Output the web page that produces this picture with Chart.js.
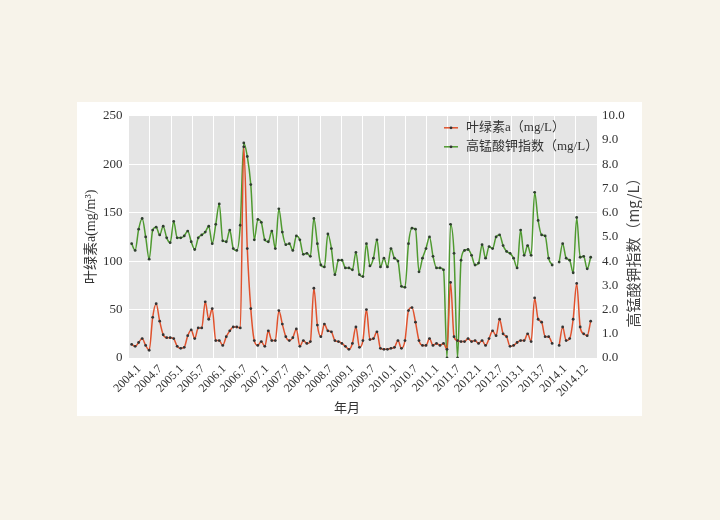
<!DOCTYPE html>
<html>
<head>
<meta charset="utf-8">
<script src="https://cdn.jsdelivr.net/npm/chart.js@4.4.1/dist/chart.umd.min.js"></script>
<style>
  body { margin: 0; width: 720px; height: 520px; background: #f7f3ea; position: relative; overflow: hidden; }
  #box { position: absolute; left: 77px; top: 102px; width: 565px; height: 314px; background: #fff; }
</style>
</head>
<body>
<div id="box"><canvas id="chart" width="565" height="314"></canvas></div>
<script>
// tick labels on the x axis (one every half year, as printed)
const xLabels = ['2004.1','2004.7','2005.1','2005.7','2006.1','2006.7','2007.1','2007.7',
  '2008.1','2008.7','2009.1','2009.7','2010.1','2010.7','2011.1','2011.7','2012.1','2012.7',
  '2013.1','2013.7','2014.1','2014.12'];

// monthly values 2004.1 - 2014.12 (null = no sample)
const chlA = [14,12,16,20,13,8,42,56,38,24,
  21,21,20,12,10,11,23,29,20,31,
  31,58,40,51,18,18,13,22,28,32,
  32,31,218,113,51,18,13,17,12,28,
  18,18,49,35,22,18,21,30,12,18,
  15,17,72,34,22,35,28,27,18,17,
  15,12,9,15,32,11,18,50,19,20,
  27,10,9,9,10,11,18,10,18,49,
  52,37,18,13,13,20,13,15,13,15,
  9,78,22,18,17,17,20,17,18,15,
  18,13,20,28,23,40,25,22,12,13,
  16,18,18,25,17,62,40,37,22,22,
  15,null,13,32,18,20,40,77,32,25,
  23,38];

const codMn = [4.72,4.44,5.32,5.76,5.00,4.08,5.28,5.40,5.08,5.44,
  4.96,4.76,5.64,4.96,4.96,5.04,5.24,4.80,4.48,4.96,
  5.08,5.20,5.44,4.72,5.52,6.36,4.84,4.80,5.28,4.52,
  4.44,5.48,8.88,8.32,7.16,4.88,5.72,5.60,4.88,4.80,
  5.24,4.52,6.16,5.20,4.68,4.72,4.44,5.04,4.88,4.28,
  4.32,4.20,5.76,4.72,3.84,3.76,5.12,4.52,3.44,4.04,
  4.04,3.72,3.72,3.64,4.36,3.44,3.36,4.72,3.80,4.12,
  4.88,3.76,4.12,3.76,4.52,4.12,4.00,2.96,2.92,4.72,
  5.36,5.32,3.56,4.12,4.52,5.00,4.20,3.72,3.72,3.64,
  0.00,5.52,4.32,0.00,4.04,4.44,4.48,4.24,3.84,3.92,
  4.68,4.12,4.60,4.52,5.00,5.08,4.64,4.40,4.32,4.12,
  3.72,5.28,4.24,4.64,4.24,6.84,5.68,5.08,5.04,4.12,
  3.84,null,3.96,4.72,4.12,4.04,3.52,5.80,4.16,4.20,
  3.68,4.16];

const serif = '"Liberation Serif", "Noto Sans CJK SC", serif';
const textColor = '#333';

const toPoints = arr => arr.map((v, i) => ({ x: i, y: v }));

// grey panel behind the plot, legend and the extra titles
const decor = {
  id: 'decor',
  beforeDraw(chart) {
    const { ctx, chartArea: a } = chart;
    ctx.save();
    ctx.fillStyle = '#e5e5e5';
    ctx.fillRect(a.left, a.top, a.right - a.left, a.bottom - a.top);
    ctx.restore();
  },
  afterDraw(chart) {
    const { ctx, chartArea: a } = chart;
    ctx.save();
    // legend
    chart.data.datasets.forEach((ds, i) => {
      const y = a.top + 12 + i * 19;
      ctx.strokeStyle = ds.borderColor;
      ctx.lineWidth = 1.5;
      ctx.beginPath();
      ctx.moveTo(367, y);
      ctx.lineTo(381, y);
      ctx.stroke();
      ctx.fillStyle = '#333';
      ctx.beginPath();
      ctx.arc(374, y, 1.4, 0, Math.PI * 2);
      ctx.fill();
      ctx.fillStyle = textColor;
      ctx.font = '13px ' + serif;
      ctx.textBaseline = 'middle';
      ctx.textAlign = 'left';
      ctx.fillText(ds.label, 389, y);
    });
    // right axis title, reading upwards
    ctx.translate(556, 147);
    ctx.rotate(-Math.PI / 2);
    ctx.font = '15px "Noto Sans CJK SC", sans-serif';
    ctx.fillStyle = '#444';
    ctx.textAlign = 'center';
    ctx.textBaseline = 'middle';
    ctx.fillText('高锰酸钾指数（mg/L）', 0, 0);
    ctx.restore();
    // x axis title
    ctx.save();
    ctx.font = '13px ' + serif;
    ctx.fillStyle = textColor;
    ctx.textAlign = 'center';
    ctx.textBaseline = 'middle';
    ctx.fillText('年月', 270, 307);
    ctx.restore();
  }
};

new Chart(document.getElementById('chart'), {
  type: 'line',
  data: {
    datasets: [
      {
        label: '叶绿素a（mg/L）',
        data: toPoints(chlA),
        xAxisID: 'x',
        yAxisID: 'y',
        borderColor: '#e0522d',
        borderWidth: 1.5,
        pointRadius: 1.4,
        pointBorderWidth: 0,
        pointBackgroundColor: '#333',
        cubicInterpolationMode: 'monotone',
        spanGaps: false
      },
      {
        label: '高锰酸钾指数（mg/L）',
        data: toPoints(codMn),
        xAxisID: 'x',
        yAxisID: 'y1',
        borderColor: '#4f9a30',
        borderWidth: 1.5,
        pointRadius: 1.4,
        pointBorderWidth: 0,
        pointBackgroundColor: '#2f3f2f',
        cubicInterpolationMode: 'monotone',
        spanGaps: false
      }
    ]
  },
  options: {
    responsive: false,
    animation: false,
    devicePixelRatio: 1,
    layout: { padding: { top: 11, left: 0, right: 0, bottom: 0 } },
    plugins: { legend: { display: false }, tooltip: { enabled: false } },
    scales: {
      x: { type: 'linear', min: -0.9, max: 132.8, display: false },
      xl: {
        type: 'category',
        labels: xLabels,
        position: 'bottom',
        offset: true,
        grid: { offset: true, color: '#fff', lineWidth: 1, drawTicks: false },
        border: { display: false },
        ticks: {
          autoSkip: false, minRotation: 45, maxRotation: 45, padding: 4,
          color: textColor, font: { family: serif, size: 12 }
        },
        afterFit: s => { s.height = 58; }
      },
      y: {
        position: 'left',
        min: 0, max: 250,
        ticks: { stepSize: 50, padding: 6, color: textColor, font: { family: serif, size: 13 } },
        grid: { color: '#fff', lineWidth: 1, drawTicks: false },
        border: { display: false },
        title: {
          display: true, text: '叶绿素a(mg/m³)', color: textColor,
          font: { family: serif, size: 14 }, padding: { top: 6, bottom: 0 }
        },
        afterFit: s => { s.width = 51.5; }
      },
      y1: {
        position: 'right',
        min: 0, max: 10,
        ticks: {
          stepSize: 1, padding: 5, color: textColor, font: { family: serif, size: 13 },
          callback: v => v.toFixed(1)
        },
        grid: { display: false, drawTicks: false },
        border: { display: false },
        afterFit: s => { s.width = 45; }
      }
    }
  },
  plugins: [decor]
});
</script>
</body>
</html>
